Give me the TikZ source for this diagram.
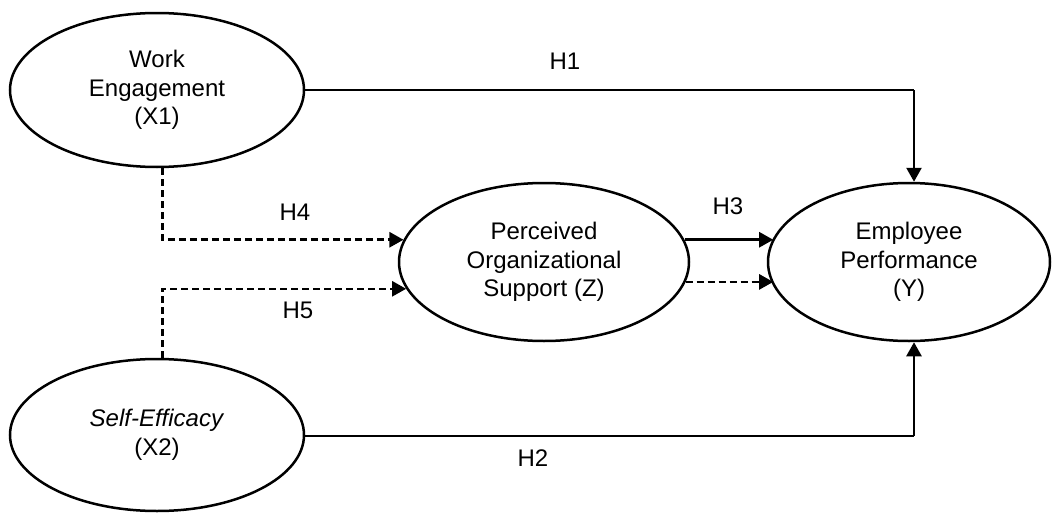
\documentclass[tikz,border=0pt]{standalone}
\usepackage{fontspec}
\setmainfont{Liberation Sans}
\usetikzlibrary{arrows.meta,shapes.geometric}
\begin{document}
\begin{tikzpicture}[x=1pt,y=-1pt,
  construct/.style={draw,ellipse,line width=2.5pt,inner sep=0pt,align=center,
    font=\fontsize{24}{28.5}\selectfont},
  link/.style={line width=2.5pt,-{Triangle[length=14pt,width=15pt]}},
  dlink/.style={link,dash pattern=on 7pt off 4pt},
  hlabel/.style={font=\fontsize{24}{28}\selectfont,inner sep=0pt}]
\useasboundingbox (0,0) rectangle (1053,514);
\node[construct,minimum width=294pt,minimum height=154pt] (WE) at (157,90) {Work\\Engagement\\(X1)};
\node[construct,minimum width=294pt,minimum height=152pt] (SE) at (157,435) {\textit{Self-Efficacy}\\(X2)};
\node[construct,minimum width=290pt,minimum height=158pt] (POS) at (544,262) {Perceived\\Organizational\\Support (Z)};
\node[construct,minimum width=282pt,minimum height=158pt] (EP) at (909,262) {Employee\\Performance\\(Y)};
\coordinate (h1) at (914,90);
\coordinate (h2) at (914,436);
\draw[link,-] (WE.east) -- (h1);
\draw[link] (h1) -- (h1 |- EP.north);
\draw[link,-] (SE.east |- h2) -- (h2);
\draw[link] (h2) -- (h2 |- EP.south);
\draw[link] (POS.9.3) -- (POS.9.3 -| EP.170.4);
\draw[dlink] (POS.-8.9) -- (POS.-8.9 -| EP.-170.8);
\draw[dlink] (WE.-86.3) |- (POS.171.5);
\draw[dlink] (SE.86.3) |- (POS.-169.3);
\node[hlabel] (l1) at (565,61) {H1};
\node[hlabel] (l2) at (533,458) {H2};
\node[hlabel] (l3) at (728,206) {H3};
\node[hlabel] (l4) at (295,212) {H4};
\node[hlabel] (l5) at (298,310) {H5};
\end{tikzpicture}
\end{document}
